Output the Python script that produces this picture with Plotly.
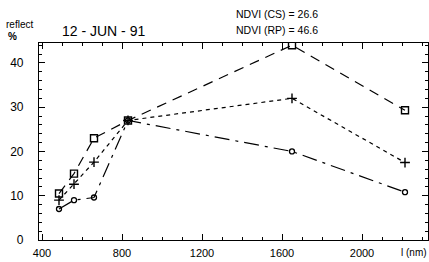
import plotly.graph_objects as go

wavelength = [485, 560, 660, 830, 1650, 2215]
series_square = [10.5, 15.0, 23.0, 27.0, 44.0, 29.3]
series_plus = [9.0, 12.6, 17.6, 27.0, 32.0, 17.5]
series_circle = [7.0, 9.0, 9.6, 27.0, 20.0, 10.8]
x_ticks = [400, 800, 1200, 1600, 2000]
y_ticks = [0, 10, 20, 30, 40]

fig = go.Figure()
fig.add_trace(go.Scatter(x=wavelength, y=series_circle, mode="lines+markers",
    line=dict(color="black", width=1.2, dash="longdashdot"),
    marker=dict(symbol="circle-open", size=5, color="black", line=dict(width=1.3))))
fig.add_trace(go.Scatter(x=wavelength, y=series_plus, mode="lines+markers",
    line=dict(color="black", width=1.2, dash="4px,4px"),
    marker=dict(symbol="cross-thin-open", size=7, color="black", line=dict(width=1.4, color="black"))))
fig.add_trace(go.Scatter(x=wavelength, y=series_square, mode="lines+markers",
    line=dict(color="black", width=1.2, dash="10px,7px"),
    marker=dict(symbol="square-open", size=7, color="black", line=dict(width=1.4))))

font = dict(family="Liberation Sans, Arial, sans-serif", color="black")
fig.update_layout(
    width=429, height=262,
    margin=dict(l=39, r=1, t=43, b=22),
    plot_bgcolor="white", paper_bgcolor="white",
    showlegend=False,
    font=dict(**font, size=11),
)
fig.update_xaxes(range=[385, 2330], tickvals=x_ticks, ticktext=[str(v) for v in x_ticks],
    showgrid=False, zeroline=False, showline=True, linecolor="black", linewidth=1.2,
    mirror="allticks", ticks="inside", ticklen=6, tickcolor="black",
    minor=dict(dtick=100, tick0=0, ticks="inside", ticklen=3, tickcolor="black"),
    tickfont=dict(size=11), ticklabelstandoff=3)
fig.update_yaxes(range=[0, 44.5], tickvals=y_ticks,
    showgrid=False, zeroline=False, showline=True, linecolor="black", linewidth=1.2,
    mirror="allticks", ticks="inside", ticklen=6, tickcolor="black",
    minor=dict(dtick=2, tick0=0, ticks="inside", ticklen=3, tickcolor="black"),
    tickfont=dict(size=12), ticklabelstandoff=12)

ann = [
    dict(x=4, y=25, text="reflect", size=10, anchor="left"),
    dict(x=6, y=37, text="<b>%</b>", size=10, anchor="left"),
    dict(x=60, y=31, text="12 - JUN - 91", size=14, anchor="left"),
    dict(x=234, y=14, text="NDVI (CS) = 26.6", size=10.5, anchor="left"),
    dict(x=234, y=30, text="NDVI (RP) = 46.6", size=10.5, anchor="left"),
    dict(x=429, y=252, text="l (nm)", size=10, anchor="right"),
]
for a in ann:
    fig.add_annotation(xref="paper", yref="paper",
        x=(a["x"] - 39) / 389,
        y=1 - (a["y"] - 43) / 197,
        text=a["text"], showarrow=False, xanchor=a["anchor"], yanchor="middle",
        font=dict(**font, size=a["size"]))

fig.write_html("out.html", config={"displayModeBar": False},
               post_script="document.body.style.margin='0';")
